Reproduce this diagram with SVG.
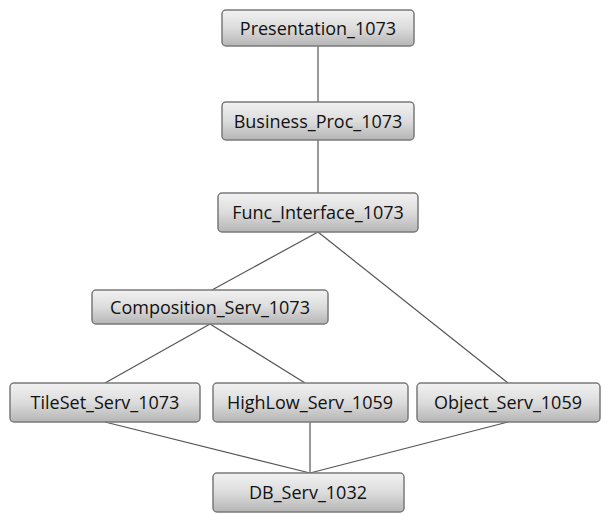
<svg xmlns="http://www.w3.org/2000/svg" width="605" height="515" viewBox="0 0 605 515">
<defs>
<linearGradient id="g" x1="0" y1="0" x2="0" y2="1">
<stop offset="0" stop-color="#f2f2f2"/>
<stop offset="0.5" stop-color="#dcdcdc"/>
<stop offset="1" stop-color="#b5b5b5"/>
</linearGradient>
</defs>
<style>
.n rect{fill:url(#g);stroke:#7a7a7a;stroke-width:1.5}
.n text{font-family:"Open Sans","Noto Sans",sans-serif;font-size:18px;fill:#111;text-anchor:middle;dominant-baseline:central}
#edges line{stroke:#555;stroke-width:1.2}
</style>
<rect width="605" height="515" fill="#fff"/>
<g id="edges">
<line x1="318" y1="46" x2="318" y2="102"/>
<line x1="318" y1="140" x2="318" y2="193"/>
<line x1="318" y1="232" x2="212" y2="290"/>
<line x1="318" y1="232" x2="508" y2="383"/>
<line x1="210" y1="324" x2="105" y2="383"/>
<line x1="210" y1="324" x2="305" y2="383"/>
<line x1="105" y1="422" x2="310" y2="473"/>
<line x1="310" y1="422" x2="310" y2="473"/>
<line x1="508" y1="422" x2="310" y2="473"/>
</g>
<g id="presentation" class="n"><rect x="222" y="10" width="192" height="36" rx="4"/><text x="318" y="28">Presentation_1073</text></g>
<g id="business" class="n"><rect x="222" y="102" width="192" height="38" rx="4"/><text x="318" y="121">Business_Proc_1073</text></g>
<g id="func" class="n"><rect x="218" y="193" width="200" height="39" rx="4"/><text x="318" y="212">Func_Interface_1073</text></g>
<g id="composition" class="n"><rect x="92" y="290" width="236" height="34" rx="4"/><text x="210" y="307">Composition_Serv_1073</text></g>
<g id="tileset" class="n"><rect x="10" y="383" width="190" height="39" rx="4"/><text x="105" y="402">TileSet_Serv_1073</text></g>
<g id="highlow" class="n"><rect x="213" y="383" width="195" height="39" rx="4"/><text x="310" y="402">HighLow_Serv_1059</text></g>
<g id="object" class="n"><rect x="417" y="383" width="183" height="39" rx="4"/><text x="508" y="402">Object_Serv_1059</text></g>
<g id="db" class="n"><rect x="213" y="473" width="191" height="39" rx="4"/><text x="308" y="492">DB_Serv_1032</text></g>
</svg>
